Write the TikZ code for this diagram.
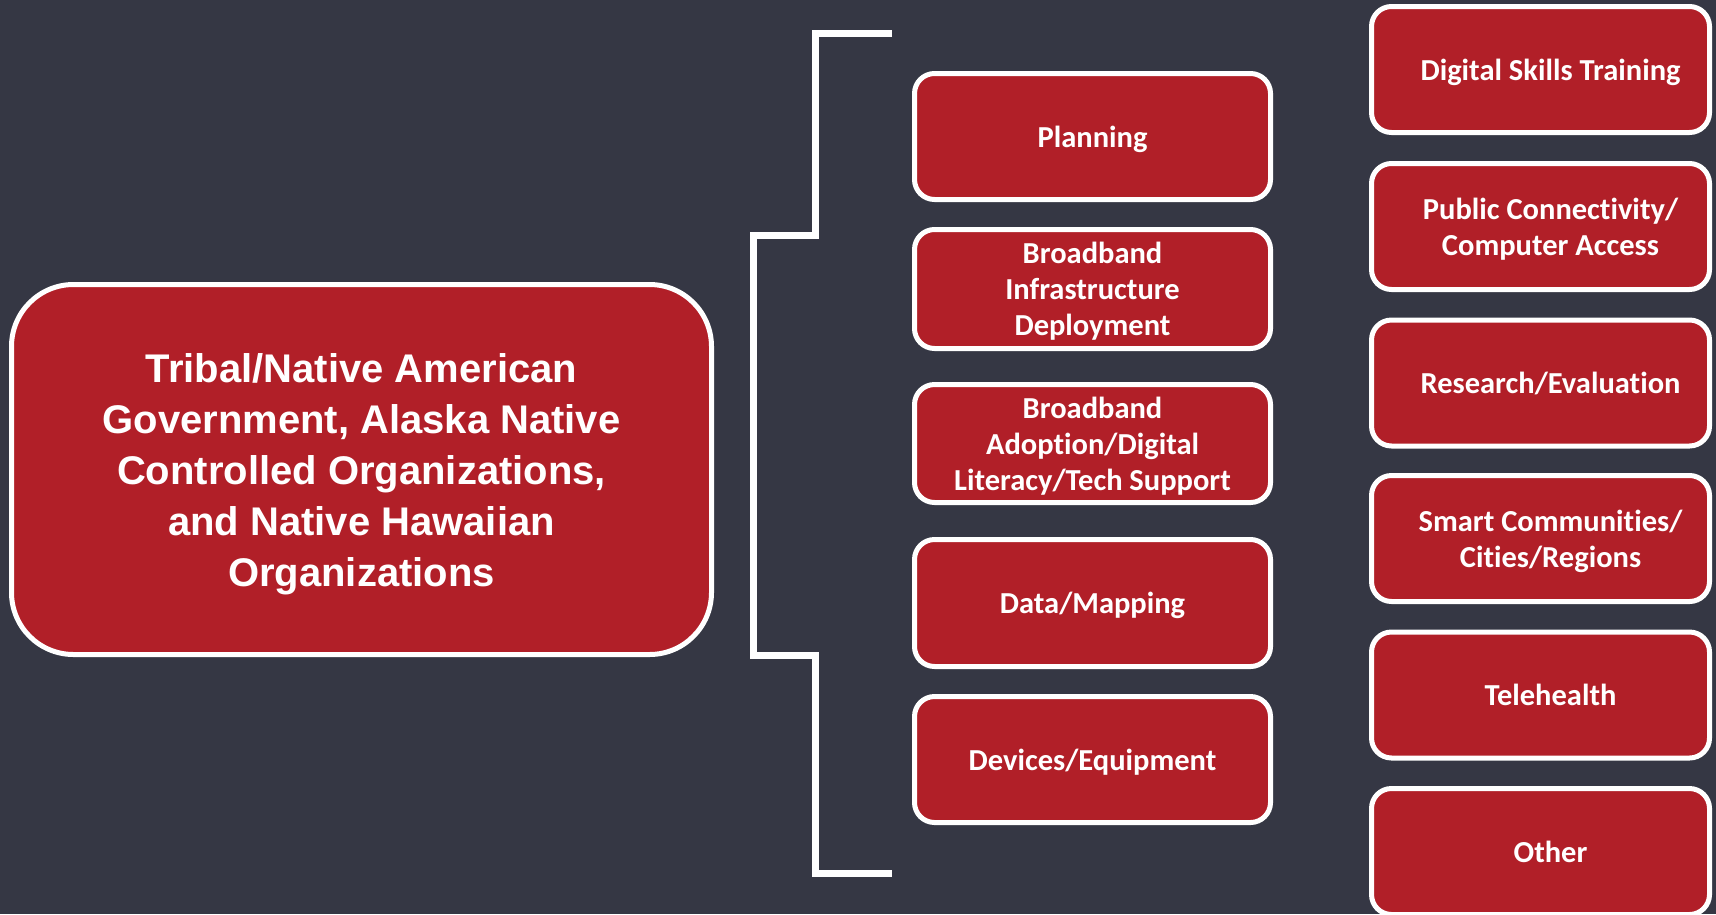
\documentclass[tikz,border=0pt]{standalone}
\usepackage{fontspec}
\setmainfont{Carlito}[Ligatures={NoCommon}]
\newfontfamily\arialfont{Liberation Sans}
\definecolor{bgc}{RGB}{53,55,68}
\definecolor{boxred}{RGB}{177,31,40}
\begin{document}
\begin{tikzpicture}[x=1pt,y=-1pt,
  box/.style={draw=white, line width=5pt, fill=boxred, rounded corners=20pt,
    text=white, font=\fontsize{30.5}{36}\selectfont\bfseries, align=center,
    inner sep=0pt, text depth=0pt},
  midbox/.style={box, minimum width=356pt},
  rightbox/.style={box, minimum width=338pt, minimum height=126pt},
  mainbox/.style={draw=white, line width=5pt, fill=boxred, rounded corners=62pt,
    text=white, font=\arialfont\fontsize{40}{51}\selectfont\bfseries, align=center,
    minimum width=700pt, minimum height=370pt, inner sep=0pt, text depth=0pt},
  bracket/.style={draw=white, line width=7pt, line join=miter}]
\fill[bgc] (0,0) rectangle (1716,914);
\useasboundingbox (0,0) rectangle (1716,914);

\node[mainbox] (main) at (361.5,469.5) {Tribal/Native American\\Government, Alaska Native\\Controlled Organizations,\\and Native Hawaiian\\Organizations};

\coordinate (b1) at (892,33);
\coordinate (b2) at (815,33);
\coordinate (b3) at (815,235);
\coordinate (b4) at (753,235);
\coordinate (b5) at (753,655);
\coordinate (b6) at (815,655);
\coordinate (b7) at (815,873);
\coordinate (b8) at (892,873);
\draw[bracket] (b1) -- (b2) -- (b3) -- (b4) -- (b5) -- (b6) -- (b7) -- (b8);

\node[midbox, minimum height=126pt] (m1) at (1092.5,136.5) {Planning};
\node[midbox, minimum height=119pt] (m2) at (1092.5,289) {Broadband\\Infrastructure\\Deployment};
\node[midbox, minimum height=118pt] (m3) at (1092.5,443.5) {Broadband\\Adoption/Digital\\Literacy/Tech Support};
\node[midbox, minimum height=127pt] (m4) at (1092.5,603) {Data/Mapping};
\node[midbox, minimum height=126pt] (m5) at (1092.5,759.5) {Devices/Equipment};

\node[rightbox] (r1) at (1540.5,69.5) {\hspace*{20pt}Digital Skills Training};
\node[rightbox] (r2) at (1540.5,226.5) {\hspace*{20pt}Public Connectivity/\\\hspace*{20pt}Computer Access};
\node[rightbox] (r3) at (1540.5,383) {\hspace*{20pt}Research/Evaluation};
\node[rightbox] (r4) at (1540.5,538.5) {\hspace*{20pt}Smart Communities/\\\hspace*{20pt}Cities/Regions};
\node[rightbox] (r5) at (1540.5,695) {\hspace*{20pt}Telehealth};
\node[rightbox] (r6) at (1540.5,851.5) {\hspace*{20pt}Other};
\end{tikzpicture}
\end{document}
